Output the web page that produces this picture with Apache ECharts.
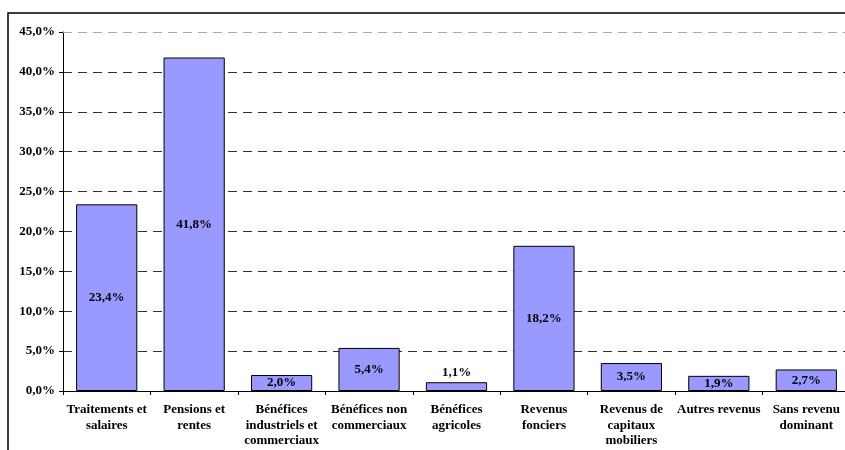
<!DOCTYPE html>
<html><head><meta charset="utf-8">
<script src="https://cdn.jsdelivr.net/npm/echarts@6/dist/echarts.min.js"></script>
<style>html,body{margin:0;padding:0;background:#fff;overflow:hidden}#c{width:860px;height:450px}</style>
</head><body><div id="c"></div>
<script>
var categories = ["Traitements et\nsalaires","Pensions et\nrentes","Bénéfices\nindustriels et\ncommerciaux","Bénéfices non\ncommerciaux","Bénéfices\nagricoles","Revenus\nfonciers","Revenus de\ncapitaux\nmobiliers","Autres revenus","Sans revenu\ndominant"];
var values = [23.4, 41.8, 2.0, 5.4, 1.1, 18.2, 3.5, 1.9, 2.7];
var labelAbove = [false,false,false,false,true,false,false,false,false];
var FONT = '"Liberation Serif", serif';
function fr(v){ return v.toFixed(1).replace('.', ',') + '%'; }
var chart = echarts.init(document.getElementById('c'));
chart.setOption({
  animation:false,
  graphic:[{type:'rect',shape:{x:8,y:13,width:900,height:500},style:{fill:'none',stroke:'#000',lineWidth:1.5},z:-1}],
  grid:{left:63,right:10,top:32,bottom:59,containLabel:false},
  xAxis:{type:'category',data:categories,
    axisLine:{lineStyle:{color:'#000',width:1}},
    axisTick:{show:true,length:4,lineStyle:{color:'#000'}},
    axisLabel:{interval:0,color:'#000',fontFamily:FONT,fontWeight:'bold',fontSize:13,lineHeight:15.5,margin:11}
  },
  yAxis:{type:'value',min:0,max:45,interval:5,
    axisLine:{show:true,lineStyle:{color:'#000'}},
    axisTick:{show:true,length:4,lineStyle:{color:'#000'}},
    axisLabel:{formatter:function(v){return fr(v);},color:'#000',fontFamily:FONT,fontWeight:'bold',fontSize:13,margin:8},
    splitLine:{show:true,showMaxLine:false,lineStyle:{color:'#333',type:[9,6],width:1}}
  },
  series:[{type:'bar',barCategoryGap:'30%',
    data:values.map(function(v,i){return {value:v,label:{position:labelAbove[i]?'top':'inside',distance:3}};}),
    itemStyle:{color:'#9999FF',borderColor:'#000',borderWidth:1},
    label:{show:true,formatter:function(p){return fr(p.value);},color:'#000',fontFamily:FONT,fontWeight:'bold',fontSize:13},
    markLine:{silent:true,symbol:'none',label:{show:false},lineStyle:{color:'#a8a8a8',type:[9,6],width:1},data:[{yAxis:45}]}
  }]
});
</script></body></html>
